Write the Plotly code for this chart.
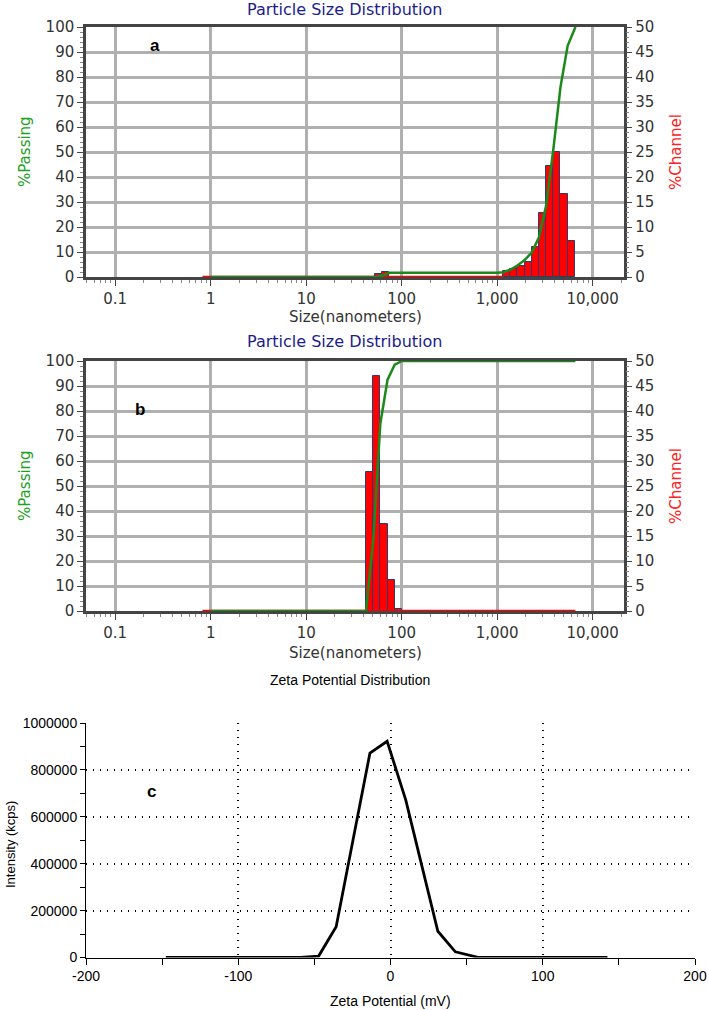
import numpy as np
import plotly.graph_objects as go

# ---- data ----
RATIO = 1.189  # channel width ratio (2**0.25)

# panel a: channel histogram (%Channel) and cumulative (%Passing)
a_bin_lo = [52.5, 62.5, 1150, 1370, 1630, 1940, 2300, 2740, 3260, 3870, 4600, 5470]
a_chan = [0.6, 1.1, 1.15, 1.7, 2.2, 3.0, 6.1, 12.8, 22.2, 25.0, 16.6, 7.3]
a_pass_size = [1, 50, 52.5, 62.5, 75, 1000, 1150, 1370, 1630, 1940, 2300, 2740, 3260, 3870, 4600, 5470, 6600]
a_pass_pct = [0, 0, 0, 0.6, 1.7, 1.7, 1.9, 2.9, 4.6, 6.8, 9.8, 15.9, 28.7, 50.9, 75.9, 92.5, 100]
a_zero_span = [0.82, 1150]

# panel b
b_bin_lo = [42.3, 50.3, 59.8, 71.1, 84.5]
b_chan = [27.8, 47.0, 17.4, 6.2, 0.4]
b_pass_size = [1, 42.3, 50.3, 59.8, 71.1, 84.5, 100.5, 6600]
b_pass_pct = [0, 0, 28, 75, 92.5, 98.5, 100, 100]
b_zero_span = [0.82, 6600]

# panel c: zeta potential
zeta_mv = [-147.6, -59, -47.2, -35.7, -24.5, -13.5, -2.2, 10, 21, 31.1, 42.6, 58, 142.5]
zeta_int = [0, 0, 6000, 131000, 505000, 872000, 922000, 672000, 380000, 112000, 24000, 0, 0]

size_ticks = [0.1, 1, 10, 100, 1000, 10000]
size_ticktext = ["0.1", "1", "10", "100", "1,000", "10,000"]
zeta_ticks = [-200, -100, 0, 100, 200]
zeta_ticktext = ["-200", "-100", "0", "100", "200"]

W, H = 709, 1010
GREEN = "#1b8a1b"
RED = "#ff0000"
FRAME = "#444444"
GRID = "#b0b0b0"
TICKFONT = dict(family="DejaVu Sans", size=15, color="#333333")
CFONT = dict(family="Liberation Sans", size=14, color="black")
CDOT = "1px,6px"


def px_x(p):
    return p / W


def px_y(p):
    return 1 - p / H


minor_vals = [np.log10(k * 10.0 ** d) for d in range(-2, 5) for k in range(2, 10)]
minor_vals = [v for v in minor_vals if -1.306 < v < 4.323]

fig = go.Figure()


def psd_panel(n, bin_lo, chan, pass_size, pass_pct, zero_span):
    xa = "x" if n == 1 else f"x{n}"
    ych = "y" if n == 1 else f"y{2 * n - 1}"
    yps = f"y{2 * n}"
    lw = np.log10(RATIO)
    fig.add_trace(go.Scatter(x=np.log10(zero_span), y=[0, 0], mode="lines",
                             line=dict(color=RED, width=2.5), xaxis=xa, yaxis=ych,
                             showlegend=False, hoverinfo="skip"))
    fig.add_trace(go.Bar(x=np.log10(bin_lo) + lw / 2, y=chan, width=lw,
                         marker=dict(color=RED, line=dict(color="#2e3b6e", width=1)),
                         xaxis=xa, yaxis=ych, showlegend=False))
    fig.add_trace(go.Scatter(x=np.log10(pass_size), y=pass_pct, mode="lines",
                             line=dict(color=GREEN, width=2.5), xaxis=xa, yaxis=yps,
                             showlegend=False))


psd_panel(1, a_bin_lo, a_chan, a_pass_size, a_pass_pct, a_zero_span)
psd_panel(2, b_bin_lo, b_chan, b_pass_size, b_pass_pct, b_zero_span)

fig.add_trace(go.Scatter(x=zeta_mv, y=zeta_int, mode="lines",
                         line=dict(color="black", width=2.8), xaxis="x3", yaxis="y5",
                         showlegend=False))

layout = dict(width=W, height=H, margin=dict(l=0, r=0, t=0, b=0, autoexpand=False),
              plot_bgcolor="white", paper_bgcolor="white", bargap=0, showlegend=False)

panel_y = {1: (27, 277), 2: (361, 611)}
for n in (1, 2):
    top, bot = panel_y[n]
    xk = "xaxis" if n == 1 else f"xaxis{n}"
    ych = "yaxis" if n == 1 else f"yaxis{2 * n - 1}"
    yps = f"yaxis{2 * n}"
    ych_id = "y" if n == 1 else f"y{2 * n - 1}"
    x_id = "x" if n == 1 else f"x{n}"
    layout[xk] = dict(domain=[px_x(86), px_x(623.5)], range=[-1.306, 4.323],
                      anchor=ych_id, tickmode="array", tickvals=np.log10(size_ticks),
                      ticktext=size_ticktext, showgrid=True, gridcolor=GRID, gridwidth=2.5,
                      showline=True, linecolor=FRAME, linewidth=2.5, mirror=True,
                      ticks="outside", ticklen=6, tickcolor=FRAME, tickfont=TICKFONT,
                      zeroline=False, automargin=False,
                      minor=dict(tickmode="array", tickvals=minor_vals, ticks="outside",
                                 ticklen=3, tickcolor="#888888", showgrid=False))
    layout[ych] = dict(domain=[px_y(bot), px_y(top)], range=[0, 50], dtick=5,
                       side="right", anchor=x_id, showgrid=True, gridcolor=GRID,
                       gridwidth=2.5, showline=True, linecolor=FRAME, linewidth=2.5,
                       ticks="outside", ticklen=6, tickcolor=FRAME, tickfont=TICKFONT,
                       zeroline=False, automargin=False,
                       minor=dict(dtick=1, ticks="outside", ticklen=3, tickcolor="#888888"))
    layout[yps] = dict(overlaying=ych_id, range=[0, 100], dtick=10, side="left",
                       anchor=x_id, showgrid=False, showline=True, linecolor=FRAME,
                       linewidth=2.5, ticks="outside", ticklen=6, tickcolor=FRAME,
                       tickfont=TICKFONT, zeroline=False, automargin=False,
                       minor=dict(dtick=2, ticks="outside", ticklen=3, tickcolor="#888888"))

layout["xaxis3"] = dict(domain=[px_x(86), px_x(695)], range=[-200, 200],
                        tickmode="array", tickvals=zeta_ticks, ticktext=zeta_ticktext,
                        anchor="y5", showgrid=True, gridcolor="black", griddash=CDOT,
                        gridwidth=1.5, showline=True, linecolor="black", linewidth=1,
                        ticks="outside", ticklen=6, tickcolor="black", tickfont=CFONT,
                        zeroline=False, automargin=False,
                        minor=dict(dtick=50, ticks="outside", ticklen=6, tickcolor="black"))
layout["yaxis5"] = dict(domain=[px_y(957.5), px_y(723)], range=[0, 1000000],
                        dtick=200000, tickformat="d", anchor="x3", showgrid=True,
                        gridcolor="black", griddash=CDOT, gridwidth=1.5, showline=True,
                        linecolor="black", linewidth=1, ticks="outside", ticklen=5,
                        tickcolor="black", tickfont=CFONT, zeroline=False, automargin=False,
                        minor=dict(dtick=100000, ticks="outside", ticklen=5,
                                   tickcolor="black"))

fig.update_layout(**layout)

TITLEFONT = dict(family="DejaVu Sans", size=16, color="#1c1c8a")
notes = [
    ("Particle Size Distribution", 344.5, 9, TITLEFONT, 0),
    ("Particle Size Distribution", 344.5, 341, TITLEFONT, 0),
    ("Size(nanometers)", 355, 317, TICKFONT, 0),
    ("Size(nanometers)", 355, 653, TICKFONT, 0),
    ("%Passing", 25, 152, dict(family="DejaVu Sans", size=15, color="#22a022"), -90),
    ("%Passing", 25, 486, dict(family="DejaVu Sans", size=15, color="#22a022"), -90),
    ("%Channel", 676, 152, dict(family="DejaVu Sans", size=15, color="#ff2020"), -90),
    ("%Channel", 676, 486, dict(family="DejaVu Sans", size=15, color="#ff2020"), -90),
    ("<b>a</b>", 155, 45, dict(family="Liberation Sans", size=17, color="black"), 0),
    ("<b>b</b>", 140, 409, dict(family="Liberation Sans", size=17, color="black"), 0),
    ("<b>c</b>", 151, 791, dict(family="Liberation Sans", size=17, color="black"), 0),
    ("Zeta Potential Distribution", 350, 680, CFONT, 0),
    ("Zeta Potential (mV)", 390, 1001, CFONT, 0),
    ("Intensity (kcps)", 10, 845, dict(family="Liberation Sans", size=13, color="black"), -90),
]
for text, x, y, font, ang in notes:
    fig.add_annotation(text=text, x=px_x(x), y=px_y(y), xref="paper", yref="paper",
                       xanchor="center", yanchor="middle", showarrow=False,
                       font=font, textangle=ang)

# drop the default 8px page margin so the figure fills the window exactly
fig.write_html("out.html", config={"displayModeBar": False},
               post_script="document.body.style.margin='0';document.body.style.overflow='hidden';")
